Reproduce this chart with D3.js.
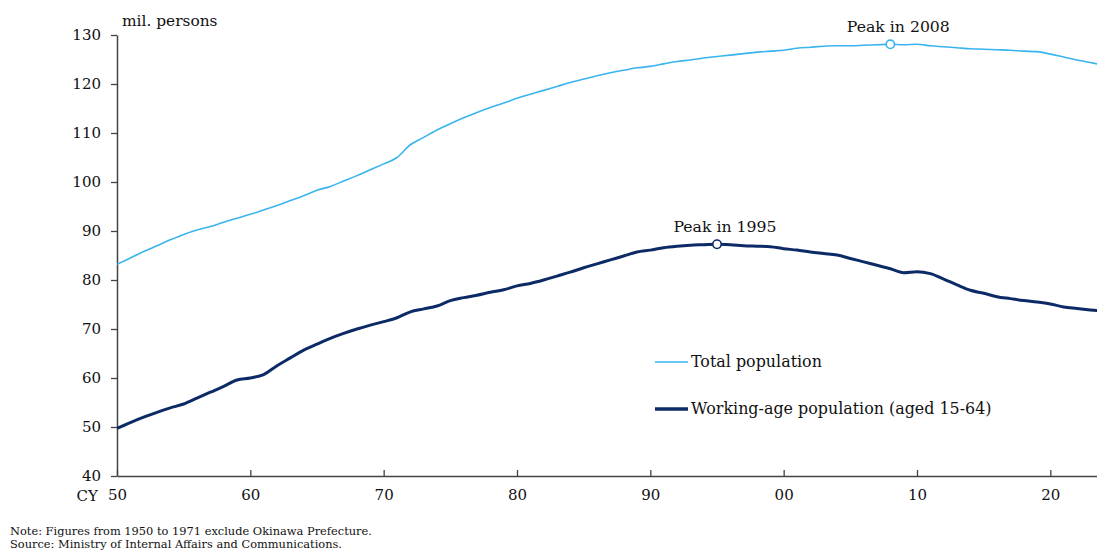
<!DOCTYPE html>
<html><head><meta charset="utf-8">
<script src="https://cdn.jsdelivr.net/npm/d3@7"></script>
<style>body{margin:0;background:#fff;}svg{display:block;font-family:"DejaVu Serif",serif;}</style>
</head><body><svg id="c" width="1097" height="552"></svg>
<script>
const years = d3.range(1950, 2025);
const totalPop = [83.2,84.5,85.8,87.0,88.2,89.3,90.2,90.9,91.8,92.6,
93.4,94.3,95.2,96.2,97.2,98.3,99.1,100.2,101.3,102.5,
103.7,105.0,107.6,109.1,110.6,111.9,113.1,114.2,115.2,116.1,
117.1,117.9,118.7,119.5,120.3,121.0,121.7,122.3,122.8,123.3,
123.6,124.1,124.6,124.9,125.3,125.6,125.9,126.2,126.5,126.7,
126.9,127.3,127.5,127.7,127.8,127.8,127.9,128.0,128.1,128.0,
128.1,127.8,127.6,127.4,127.2,127.1,127.0,126.9,126.7,126.6,
126.1,125.5,124.9,124.4,123.8];
const workingPop = [49.7,50.9,52.0,53.0,53.9,54.7,55.9,57.1,58.3,59.6,
60.0,60.7,62.5,64.1,65.7,66.9,68.1,69.1,70.0,70.8,
71.5,72.3,73.5,74.1,74.7,75.8,76.4,76.9,77.5,78.0,
78.8,79.3,80.0,80.8,81.6,82.5,83.3,84.1,84.9,85.7,
86.1,86.6,86.9,87.1,87.2,87.3,87.2,87.0,86.9,86.8,
86.4,86.1,85.7,85.4,85.1,84.4,83.7,83.0,82.3,81.5,
81.7,81.3,80.2,79.0,77.9,77.3,76.6,76.2,75.8,75.5,
75.1,74.5,74.2,73.9,73.6];
const yTicks = [40,50,60,70,80,90,100,110,120,130];
const xTicks = [1950,1960,1970,1980,1990,2000,2010,2020];
const xTickLabels = ["50","60","70","80","90","00","10","20"];
const seriesNames = ["Total population","Working-age population (aged 15-64)"];
const peaks = [{label:"Peak in 2008", year:2008, series:0},{label:"Peak in 1995", year:1995, series:1}];
const notes = ["Note: Figures from 1950 to 1971 exclude Okinawa Prefecture.","Source: Ministry of Internal Affairs and Communications."];

const colors = ["#3ab4ee","#0c2a66"];
const widths = [1.6,3];
const FONT = "DejaVu Serif";
const svg = d3.select("#c");
const L=117, R=1097, T=35, B=476;
const x = d3.scaleLinear().domain([1950,2023.5]).range([L,R]);
const y = d3.scaleLinear().domain([40,130]).range([B,T]);

svg.append("defs").append("clipPath").attr("id","clip").append("rect")
  .attr("x",L).attr("y",0).attr("width",R-L).attr("height",B);

// y axis
const ya = svg.append("g").attr("transform",`translate(${L},0)`)
  .call(d3.axisLeft(y).tickValues(yTicks).tickSize(6).tickSizeOuter(0).tickPadding(10));
ya.select(".domain").attr("stroke","#444").attr("stroke-width",1.5);
ya.selectAll(".tick line").attr("stroke","#444").attr("stroke-width",1.3);
ya.selectAll(".tick text").attr("font-size",15).attr("fill","#111").attr("font-family",FONT);

// x axis
const xa = svg.append("g").attr("transform",`translate(0,${B})`)
  .call(d3.axisBottom(x).tickValues(xTicks).tickFormat((d,i)=>xTickLabels[i]).tickSize(-6).tickSizeOuter(0).tickPadding(13));
xa.select(".domain").attr("stroke","#444").attr("stroke-width",1.5);
xa.selectAll(".tick line").attr("stroke","#444").attr("stroke-width",1.3);
xa.selectAll(".tick text").attr("font-size",15).attr("fill","#111").attr("font-family",FONT);

svg.append("text").attr("x",98).attr("y",501).attr("text-anchor","end").attr("font-size",15).attr("fill","#111").text("CY");
svg.append("text").attr("x",122).attr("y",26).attr("font-size",15.4).attr("fill","#111").text("mil. persons");

const line = d3.line().x((d,i)=>x(years[i])).y(d=>y(d)).curve(d3.curveMonotoneX);
const g = svg.append("g").attr("clip-path","url(#clip)");
[totalPop, workingPop].forEach((s,k)=>{
  g.append("path").datum(s).attr("d",line).attr("fill","none")
   .attr("stroke",colors[k]).attr("stroke-width",widths[k]).attr("stroke-linejoin","round");
});
const data=[totalPop,workingPop];
peaks.forEach(p=>{
  const v = data[p.series][years.indexOf(p.year)];
  svg.append("circle").attr("cx",x(p.year)).attr("cy",y(v)).attr("r",4.2)
    .attr("fill","#fff").attr("stroke",colors[p.series]).attr("stroke-width",1.6);
  svg.append("text").attr("x",x(p.year)+8).attr("y",y(v)-12).attr("text-anchor","middle")
    .attr("font-size",15.7).attr("fill","#111").text(p.label);
});

// legend
seriesNames.forEach((n,k)=>{
  const ly = [362,409][k];
  svg.append("line").attr("x1",655).attr("x2",688).attr("y1",ly).attr("y2",ly)
    .attr("stroke",colors[k]).attr("stroke-width",k?3.5:1.6);
  svg.append("text").attr("x",691).attr("y",ly+5).attr("font-size",15.9).attr("fill","#111").text(n);
});

notes.forEach((t,i)=>{
  svg.append("text").attr("x",10).attr("y",535+i*13).attr("font-size",11.4).attr("fill","#111").text(t);
});
</script></body></html>
